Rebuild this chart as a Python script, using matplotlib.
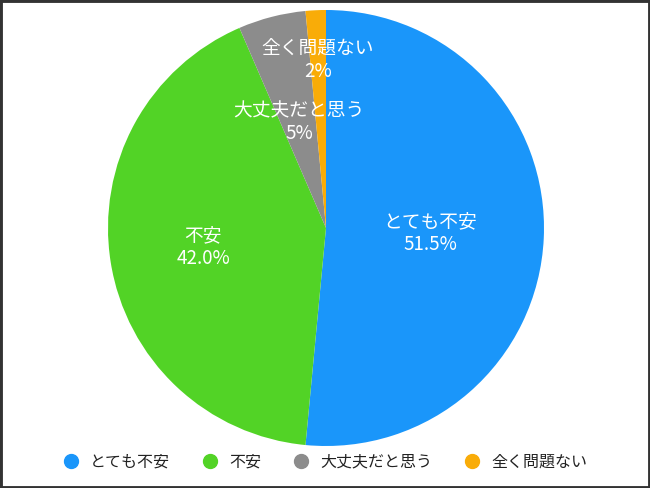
import matplotlib
matplotlib.use("Agg")
import matplotlib.pyplot as plt
from matplotlib.lines import Line2D
from matplotlib.patches import Rectangle
import numpy as np

plt.rcParams['font.family'] = ['Noto Sans CJK JP', 'DejaVu Sans']

categories = ["とても不安", "不安", "大丈夫だと思う", "全く問題ない"]
values = [51.5, 42.0, 5.0, 1.5]
pct_labels = ["51.5%", "42.0%", "5%", "2%"]
colors = ["#1A96FA", "#52D326", "#8C8C8C", "#F9AC08"]
label_radius = [0.48, 0.57, 0.50, 0.77]

fig = plt.figure(figsize=(6.5, 4.88), dpi=100)
ax = fig.add_axes([108/650, (488-446)/488, 436/650, 436/488])
wedges, _ = ax.pie(values, colors=colors, startangle=90, counterclock=False,
                   radius=1.0, wedgeprops=dict(linewidth=0))
ax.set_xlim(-1, 1)
ax.set_ylim(-1, 1)
ax.set_aspect('equal')
ax.axis('off')

for w, cat, pct, r in zip(wedges, categories, pct_labels, label_radius):
    ang = np.deg2rad((w.theta1 + w.theta2) / 2)
    x, y = r * np.cos(ang), r * np.sin(ang)
    ax.text(x, y, f"{cat}\n{pct}", color="white", ha="center", va="center",
            fontsize=13.5, linespacing=1.1)

handles = [Line2D([0], [0], marker='o', linestyle='', markersize=10,
                  markerfacecolor=c, markeredgecolor=c) for c in colors]
fig.legend(handles, categories, loc='center', bbox_to_anchor=(0.5, 1 - 462/488),
           ncol=4, frameon=False, fontsize=11.5, handlelength=1.0,
           handletextpad=0.7, columnspacing=2.0, labelcolor="#222222")

fig.add_artist(Rectangle((0, 0), 1, 1, transform=fig.transFigure, fill=False,
                         edgecolor="#333333", linewidth=3.5))

fig.savefig("out.png", dpi=100)
